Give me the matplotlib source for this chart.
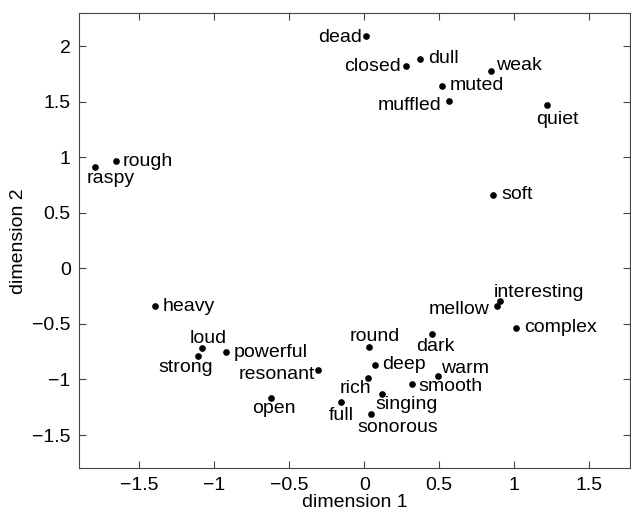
import numpy as np
import matplotlib
matplotlib.use("Agg")
import matplotlib.pyplot as plt

# ********** Data *************************************************************

words = ["raspy", "rough", "dead", "closed", "dull", "weak", "muted", "muffled",
         "quiet", "soft", "heavy", "loud", "strong", "powerful", "resonant", "open",
         "interesting", "mellow", "complex", "round", "dark", "deep", "warm", "rich",
         "smooth", "singing", "full", "sonorous"]
dim1 = [-1.793, -1.653, 0.011, 0.280, 0.371, 0.845, 0.518, 0.562,
        1.218, 0.860, -1.397, -1.082, -1.107, -0.922, -0.307, -0.622,
        0.905, 0.883, 1.011, 0.031, 0.453, 0.073, 0.493, 0.025,
        0.320, 0.116, -0.155, 0.047]
dim2 = [0.915, 0.969, 2.093, 1.820, 1.883, 1.780, 1.642, 1.504,
        1.474, 0.657, -0.337, -0.721, -0.793, -0.751, -0.919, -1.166,
        -0.295, -0.337, -0.535, -0.712, -0.589, -0.874, -0.967, -0.985,
        -1.042, -1.135, -1.207, -1.310]

# label placement: (dx, dy) in pixels from the dot, horizontal alignment
labelPlace = {
    "raspy": (-9, -16, "left"), "rough": (6, -5, "left"),
    "dead": (-4, -6, "right"), "closed": (-5, -5, "right"),
    "dull": (8, -4, "left"), "weak": (5, 1, "left"),
    "muted": (8, -4, "left"), "muffled": (-7, -9, "right"),
    "quiet": (-11, -19, "left"), "soft": (8, -4, "left"),
    "heavy": (8, -5, "left"), "loud": (-12, 5, "left"),
    "strong": (15, -16, "right"), "powerful": (8, -5, "left"),
    "resonant": (-3, -9, "right"), "open": (-19, -15, "left"),
    "interesting": (-6, 4, "left"), "mellow": (-7, -8, "right"),
    "complex": (8, -4, "left"), "round": (-19, 6, "left"),
    "dark": (-16, -17, "left"), "deep": (7, -4, "left"),
    "warm": (3, 3, "left"), "rich": (3, -15, "right"),
    "smooth": (6, -7, "left"), "singing": (-6, -15, "left"),
    "full": (-12, -18, "left"), "sonorous": (-14, -18, "left"),
}

# ********** Plot ************************************************************

plt.rcParams["font.family"] = ["Liberation Sans", "DejaVu Sans"]
plt.rcParams["font.size"] = 14

fig = plt.figure(figsize=(6.31, 5.11), dpi=100)
ax = fig.add_axes([0.1252, 0.0835, 0.873, 0.8905])

ax.plot(dim1, dim2, "o", color="k", markersize=3.8, linestyle="none")

for w, x, y in zip(words, dim1, dim2):
    dx, dy, ha = labelPlace[w]
    ax.annotate(w, (x, y), xytext=(dx, dy), textcoords="offset pixels",
                ha=ha, va="baseline", fontsize=14)

ax.set_xlim(-1.902, 1.771)
ax.set_ylim(-1.80, 2.297)
ax.set_xticks([-1.5, -1, -0.5, 0, 0.5, 1, 1.5])
ax.set_xticklabels(["\u22121.5", "\u22121", "\u22120.5", "0", "0.5", "1", "1.5"])
ax.set_yticks([-1.5, -1, -0.5, 0, 0.5, 1, 1.5, 2])
ax.set_yticklabels(["\u22121.5", "\u22121", "\u22120.5", "0", "0.5", "1", "1.5", "2"])
ax.tick_params(direction="in", top=True, right=True, length=5, width=0.8,
               color="#444444", labelsize=14, pad=6)
for s in ax.spines.values():
    s.set_color("#444444")
    s.set_linewidth(0.8)

ax.set_xlabel("dimension 1", fontsize=14, labelpad=0)
ax.set_ylabel("dimension 2", fontsize=14, labelpad=4)

fig.savefig("out.png", dpi=100)
